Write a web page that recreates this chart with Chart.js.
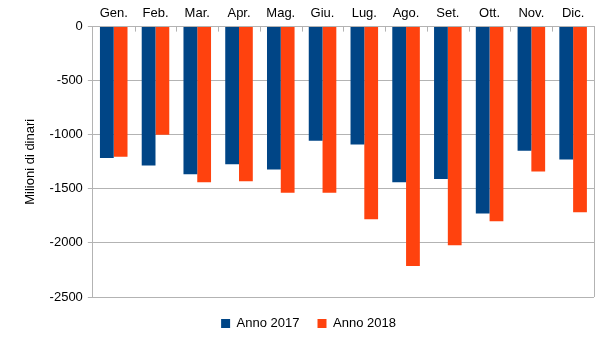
<!DOCTYPE html>
<html><head><meta charset="utf-8">
<script src="https://cdn.jsdelivr.net/npm/chart.js@4/dist/chart.umd.min.js"></script>
<style>html,body{margin:0;padding:0;background:#fff}#wrap{width:605px;height:340px}</style>
</head><body><div id="wrap"><canvas id="c" width="605" height="340"></canvas></div>
<script>
const months = ["Gen.","Feb.","Mar.","Apr.","Mag.","Giu.","Lug.","Ago.","Set.","Ott.","Nov.","Dic."];
const anno2017 = [-1216,-1284,-1364,-1272,-1321,-1056,-1090,-1438,-1410,-1728,-1148,-1228];
const anno2018 = [-1204,-1000,-1438,-1429,-1537,-1537,-1781,-2213,-2021,-1799,-1340,-1716];
const yTicks = [0,-500,-1000,-1500,-2000,-2500];
const seriesNames = ["Anno 2017","Anno 2018"];
const FONT = "'Liberation Sans', Arial, sans-serif";

const innerTicks = {
  id:'innerTicks',
  afterDatasetsDraw(chart){
    const x = chart.scales.x, ctx = chart.ctx, top = chart.chartArea.top;
    ctx.save(); ctx.strokeStyle='#b3b3b3'; ctx.lineWidth=1;
    for(let i=1;i<months.length;i++){
      const px = Math.round((x.getPixelForValue(i-1)+x.getPixelForValue(i))/2)+0.5;
      ctx.beginPath(); ctx.moveTo(px,top); ctx.lineTo(px,top+5); ctx.stroke();
    }
    ctx.restore();
  }
};

const spacer = {
  id:'spacer',
  beforeInit(chart){
    const box = {
      position:'bottom', weight:500, fullSize:true, options:{},
      left:0, top:0, right:0, bottom:0, width:0, height:2,
      isHorizontal(){return true;},
      update(maxW){this.width=maxW; this.height=2; return {width:maxW,height:2};},
      getPadding(){return {left:0,right:0,top:0,bottom:0};},
      draw(){}
    };
    Chart.layouts.addBox(chart, box);
  }
};

new Chart(document.getElementById('c'),{
  type:'bar',
  data:{labels:months,datasets:[
    {label:seriesNames[0],data:anno2017,backgroundColor:'#004586',borderWidth:0,barPercentage:1,categoryPercentage:0.66},
    {label:seriesNames[1],data:anno2018,backgroundColor:'#ff420e',borderWidth:0,barPercentage:1,categoryPercentage:0.66}
  ]},
  options:{
    responsive:false,animation:false,
    layout:{padding:{left:23,right:11,top:1,bottom:0}},
    plugins:{
      legend:{position:'bottom',labels:{font:{family:FONT,size:13},color:'#000',boxWidth:9,boxHeight:9,padding:18}},
      tooltip:{enabled:false}
    },
    scales:{
      x:{position:'top',
        grid:{display:false,drawTicks:false},
        border:{display:true,color:'#b3b3b3'},
        ticks:{font:{family:FONT,size:13},color:'#000',padding:5}},
      y:{min:-2500,max:0,
        afterBuildTicks(s){s.ticks=yTicks.map(v=>({value:v}));},
        grid:{color:'#b3b3b3',tickLength:5},
        border:{display:true,color:'#b3b3b3'},
        ticks:{font:{family:FONT,size:13},color:'#000',padding:5,callback:(v)=>String(v)},
        title:{display:true,text:'Milioni di dinari',font:{family:FONT,size:13},color:'#000',padding:{top:0,bottom:6}}}
    }
  },
  plugins:[spacer,innerTicks,{
    id:'rightBorder',
    afterDatasetsDraw(chart){const a=chart.chartArea,ctx=chart.ctx;ctx.save();ctx.strokeStyle='#b3b3b3';ctx.lineWidth=1;ctx.beginPath();ctx.moveTo(Math.round(a.right)+0.5,a.top);ctx.lineTo(Math.round(a.right)+0.5,a.bottom);ctx.stroke();ctx.restore();}
  }]
});
</script></body></html>
